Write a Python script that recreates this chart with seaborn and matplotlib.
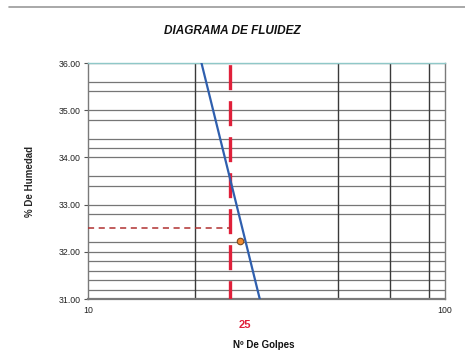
import matplotlib
matplotlib.use("Agg")
import matplotlib.pyplot as plt
import matplotlib.ticker as mticker
from matplotlib.lines import Line2D
import numpy as np
import pandas as pd
import seaborn as sns

# Flow curve (trend line) across the plotted humidity range
trend_golpes = [20.8, 30.3]
trend_humedad = [36.0, 31.0]

# Measured sample inside the window
golpes = [26.7]
humedad = [32.24]

# Reference blow count and moisture
golpes_ref = 25
humedad_ref = 32.5

y_ticks = [31, 32, 33, 34, 35, 36]
y_grid = [31.2, 31.4, 31.6, 31.8, 32.2, 32.8, 33.4, 33.6, 34.2, 34.4, 34.8, 35.4, 35.6]
x_grid = [20, 50, 70, 90]
x_ticks = [10, 100]

sns.set_theme(style="white")
plt.rcParams["font.family"] = ["Liberation Sans", "DejaVu Sans"]

fig = plt.figure(figsize=(4.65, 3.6), dpi=100)
ax = fig.add_axes([0.189, 0.169, 0.768, 0.656])

ax.set_xscale("log")
ax.set_xlim(10, 100)
ax.set_ylim(31, 36)

# Grid lines
for v in y_ticks + y_grid:
    ax.axhline(v, color="#767676", lw=0.9, zorder=1)
for v in x_grid:
    ax.axvline(v, color="#3a3a3a", lw=1.0, zorder=1)

trend = pd.DataFrame({"golpes": trend_golpes, "humedad": trend_humedad})
sns.lineplot(data=trend, x="golpes", y="humedad", ax=ax, color="#2f5fae", lw=1.6, zorder=4)

# Reference dashed lines
ax.axvline(golpes_ref, color="#e0203a", lw=2.4, ls=(2, (7.5, 3.3)), zorder=3)
ax.plot([10, golpes_ref], [humedad_ref, humedad_ref], color="#b03030", lw=1.1,
        ls=(0, (4, 3)), zorder=3)

pts = pd.DataFrame({"golpes": golpes, "humedad": humedad})
sns.scatterplot(data=pts, x="golpes", y="humedad", ax=ax, color="#f08a30",
                edgecolor="#7a4a20", s=22, linewidth=0.8, zorder=5)

ax.yaxis.set_major_locator(mticker.FixedLocator(y_ticks))
ax.yaxis.set_major_formatter(mticker.FormatStrFormatter("%.2f"))
ax.xaxis.set_major_locator(mticker.FixedLocator(x_ticks))
ax.xaxis.set_major_formatter(mticker.FormatStrFormatter("%d"))
ax.xaxis.set_minor_locator(mticker.NullLocator())
ax.tick_params(axis="both", labelsize=6.3, length=3, width=0.8, color="#555555",
               direction="out", pad=2, colors="#222222")
ax.tick_params(axis="y", left=True)
ax.tick_params(axis="x", bottom=False)

for side in ["left", "right", "bottom"]:
    ax.spines[side].set_color("#7a7a7a")
    ax.spines[side].set_linewidth(1.0)
ax.spines["bottom"].set_linewidth(1.6)
ax.spines["top"].set_color("#8fc8c8")
ax.spines["top"].set_linewidth(1.0)

ax.set_xlabel("")
ax.set_ylabel("% De Humedad", fontsize=7, fontweight="bold")
ax.yaxis.set_label_coords(-0.148, 0.5)

fig.text(0.568, 0.041, "Nº De Golpes", ha="center", va="center",
         fontsize=7, fontweight="bold", color="#111111")
fig.text(0.527, 0.097, "25", ha="center", va="center", fontsize=8,
         fontweight="bold", color="#e0203a")
fig.text(0.499, 0.915, "DIAGRAMA DE FLUIDEZ", ha="center", va="center",
         fontsize=8.5, fontweight="bold", fontstyle="italic", color="#111111")

fig.add_artist(Line2D([0.02, 1.0], [0.981, 0.981], color="#9a9a9a", lw=1.2))

fig.savefig("out.png", dpi=100)
